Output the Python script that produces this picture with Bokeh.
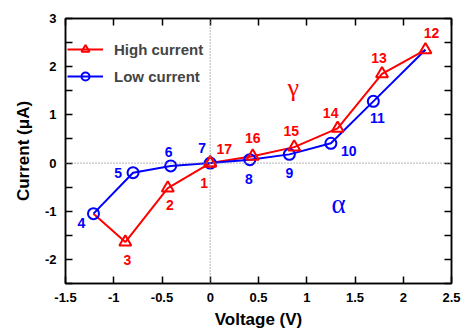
from bokeh.plotting import figure
from bokeh.models import (LinearAxis, FixedTicker, Span, LabelSet, Label,
                          ColumnDataSource, Legend, LegendItem, Range1d)
from bokeh.core.properties import value
from bokeh.embed import file_html
from bokeh.resources import INLINE

# ---- data ----
high_v = [0.00, -0.44, -0.88, 2.23, 1.78, 1.32, 0.87, 0.44, 0.00]
high_i = [0.00, -0.52, -1.64, 2.35, 1.85, 0.72, 0.33, 0.14, 0.00]
high_labels = ["1", "2", "3", "12", "13", "14", "15", "16", "17"]

low_v = [-1.21, -0.80, -0.41, 0.00, 0.41, 0.82, 1.25, 1.69]
low_i = [-1.05, -0.20, -0.06, 0.00, 0.07, 0.18, 0.41, 1.28]
low_labels = ["4", "5", "6", "7", "8", "9", "10", "11"]

x_ticks = [-1.5, -1.0, -0.5, 0.0, 0.5, 1.0, 1.5, 2.0, 2.5]
x_tick_labels = ["-1.5", "-1", "-0.5", "0", "0.5", "1", "1.5", "2", "2.5"]
y_ticks = [-2, -1, 0, 1, 2, 3]
y_tick_labels = ["-2", "-1", "0", "1", "2", "3"]
y_minor = [-2.5, -1.5, -0.5, 0.5, 1.5, 2.5]

# label offsets (screen px)
high_dx = [-6, 2, 2, 6, -3, -7, -3, 0, 14]
high_dy = [-20, -17, -18, 17, 16, 15, 16, 18, 14]
low_dx = [-12, -15, -2, -8, -1, 0, 18, 4]
low_dy = [-9, 0, 14, 15, -19, -19, -8, -17]

RED = "#ff0000"
BLUE = "#0000ff"
FONT = "Liberation Sans"

p = figure(width=464, height=331, x_range=Range1d(-1.5, 2.5), y_range=Range1d(-2.5, 3),
           output_backend="svg", toolbar_location=None,
           min_border_left=65, min_border_right=13, min_border_top=18, min_border_bottom=48)
p.grid.visible = False
p.outline_line_color = "black"
p.outline_line_width = 1.5

# zero lines
p.add_layout(Span(location=0, dimension="width", line_color="#888888", line_dash="1 2", line_width=1.2))
p.add_layout(Span(location=0, dimension="height", line_color="#888888", line_dash="1 2", line_width=1.2))

# paths
red_a_x = high_v[:3] + [low_v[0]]
red_a_y = high_i[:3] + [low_i[0]]
red_b_x = high_v[3:]
red_b_y = high_i[3:]
blue_x = low_v + [high_v[3]]
blue_y = low_i + [high_i[3]]

lr1 = p.line(red_a_x, red_a_y, line_color=RED, line_width=2)
lr2 = p.line(red_b_x, red_b_y, line_color=RED, line_width=2)
lb = p.line(blue_x, blue_y, line_color=BLUE, line_width=2)
sb = p.scatter(low_v, low_i, marker="circle", size=11, line_color=BLUE, line_width=2, fill_color=None)
sr = p.scatter(high_v, high_i, marker="triangle", size=12, line_color=RED, line_width=2, fill_color=None)

# point labels
hs = ColumnDataSource(dict(x=high_v, y=high_i, t=high_labels, dx=high_dx, dy=high_dy))
ls = ColumnDataSource(dict(x=low_v, y=low_i, t=low_labels, dx=low_dx, dy=low_dy))
for src, col in ((hs, RED), (ls, BLUE)):
    p.add_layout(LabelSet(x="x", y="y", text="t", x_offset="dx", y_offset="dy", source=src,
                          text_color=col, text_font=value(FONT), text_font_style="bold",
                          text_font_size="14px", text_align="center", text_baseline="middle"))

# greek annotations
p.add_layout(Label(x=0.86, y=1.57, text="γ", text_color=RED, text_font="Liberation Serif",
                   text_font_size="26px", text_align="center", text_baseline="middle"))
p.add_layout(Label(x=1.33, y=-0.86, text="α", text_color=BLUE, text_font="Liberation Serif",
                   text_font_size="27px", text_align="center", text_baseline="middle"))

# axes
def style(ax):
    ax.axis_line_color = "black"
    ax.axis_line_width = 1.5
    ax.major_tick_line_color = "black"
    ax.major_tick_line_width = 1.5
    ax.minor_tick_line_color = "black"
    ax.minor_tick_line_width = 1.5
    ax.major_tick_in = 7
    ax.major_tick_out = 0
    ax.minor_tick_in = 7
    ax.minor_tick_out = 0
    ax.major_label_text_font = FONT
    ax.major_label_text_font_style = "bold"
    ax.major_label_text_color = "black"
    ax.major_label_text_font_size = "13px"
    ax.axis_label_text_font = FONT
    ax.axis_label_text_font_style = "bold"
    ax.axis_label_text_font_size = "17px"
    ax.axis_label_text_color = "black"

xa = p.xaxis[0]
xa.ticker = FixedTicker(ticks=x_ticks)
xa.major_label_overrides = dict(zip(x_ticks, x_tick_labels))
style(xa)
xa.major_label_standoff = 9
xa.axis_label = "Voltage (V)"
xa.axis_label_standoff = 5

ya = p.yaxis[0]
ya.ticker = FixedTicker(ticks=y_ticks, minor_ticks=y_minor)
ya.major_label_overrides = dict(zip(y_ticks, y_tick_labels))
style(ya)
ya.major_label_standoff = 9
ya.axis_label = "Current (μA)"
ya.axis_label_standoff = 9

# mirror axes: tick marks only (minor ticks carry no labels)
top = LinearAxis(ticker=FixedTicker(ticks=[], minor_ticks=x_ticks))
style(top)
top.major_label_standoff = 0
p.add_layout(top, "above")
right = LinearAxis(ticker=FixedTicker(ticks=[], minor_ticks=y_ticks + y_minor))
style(right)
right.major_label_standoff = 0
p.add_layout(right, "right")

# legend
legend = Legend(items=[LegendItem(label="High current", renderers=[lr1, sr]),
                       LegendItem(label="Low current", renderers=[lb, sb])],
                location=(2, 197), padding=2, margin=0, spacing=7,
                glyph_width=36, glyph_height=20, label_standoff=11,
                label_text_font=FONT, label_text_font_style="bold", label_text_font_size="15px",
                border_line_color=None, background_fill_alpha=0)
p.add_layout(legend, "center")

open("out.html", "w").write(file_html(p, INLINE))
